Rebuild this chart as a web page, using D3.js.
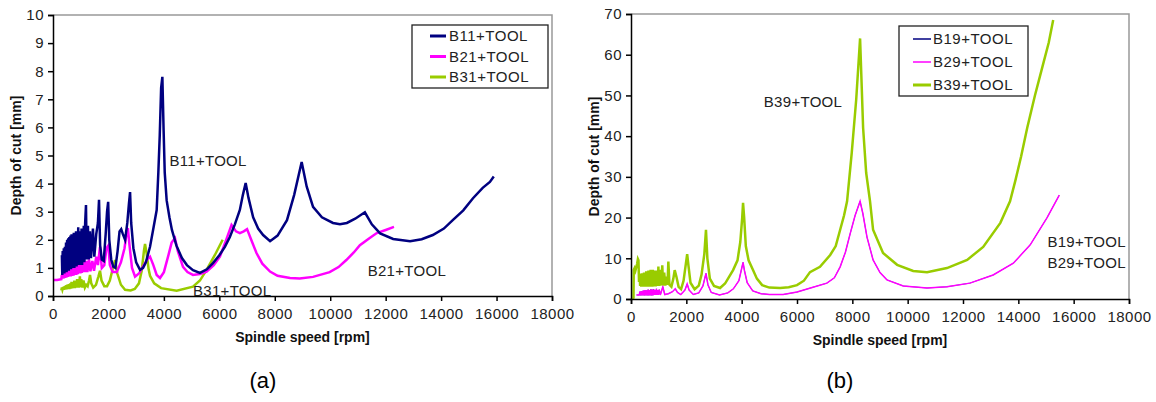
<!DOCTYPE html>
<html>
<head>
<meta charset="utf-8">
<script src="https://cdn.jsdelivr.net/npm/d3@7"></script>
<style>
  body { margin: 0; background: #fff; }
  svg { display: block; font-family: "Liberation Sans", Arial, sans-serif; }
</style>
</head>
<body>
<div id="chart"></div>
<script>
// ---- data: [rpm, depth of cut mm] ----
var b11 = [[320,1.45],[335,0.75],[350,1.6],[370,0.8],[390,1.7],[410,0.8],[430,1.75],[450,0.85],[470,1.9],[490,0.85],[510,2.0],[530,0.9],[550,2.05],[570,0.9],[590,2.1],[610,0.95],[630,2.15],[650,0.95],[670,2.2],[690,1.0],[710,2.2],[730,1.0],[750,2.25],[770,1.0],[790,2.2],[810,1.05],[830,2.3],[850,1.05],[870,2.2],[890,1.1],[910,2.45],[930,1.1],[950,2.3],[970,1.1],[990,2.2],[1010,1.15],[1030,2.4],[1050,1.1],[1070,2.2],[1090,1.2],[1110,2.5],[1130,1.2],[1160,2.6],[1190,3.24],[1215,1.3],[1260,2.5],[1290,1.3],[1330,2.3],[1370,1.35],[1440,2.4],[1490,1.4],[1560,2.2],[1620,2.6],[1660,3.42],[1700,1.8],[1760,1.3],[1830,1.25],[1900,2.2],[1950,3.0],[1990,3.35],[2030,2.0],[2100,1.3],[2170,1.05],[2250,1.0],[2330,1.6],[2400,2.3],[2460,2.38],[2520,2.2],[2600,2.0],[2680,2.6],[2740,3.3],[2780,3.7],[2820,2.6],[2900,1.7],[3000,1.2],[3140,0.93],[3250,1.0],[3350,1.2],[3500,1.75],[3620,2.4],[3740,3.06],[3800,4.4],[3850,5.7],[3900,7.4],[3945,7.8],[3990,5.9],[4030,4.4],[4100,3.4],[4200,2.8],[4290,2.35],[4450,1.8],[4650,1.35],[4830,1.1],[5050,0.92],[5300,0.82],[5550,0.95],[5770,1.17],[6000,1.45],[6200,1.75],[6380,2.1],[6560,2.55],[6740,3.06],[6850,3.6],[6950,4.02],[7050,3.5],[7220,2.8],[7400,2.4],[7580,2.17],[7830,1.95],[8100,2.15],[8440,2.7],[8700,3.6],[8970,4.77],[9150,3.9],[9380,3.17],[9700,2.8],[10100,2.6],[10350,2.55],[10600,2.6],[10900,2.75],[11250,2.98],[11500,2.55],[11800,2.23],[12270,2.03],[12880,1.95],[13300,2.02],[13700,2.17],[14100,2.4],[14420,2.7],[14800,3.05],[15150,3.48],[15500,3.85],[15760,4.06],[15900,4.25]];

var b21 = [[0,0.57],[150,0.57],[300,0.6],[320,0.75],[340,0.62],[370,0.8],[390,0.63],[420,0.85],[440,0.65],[470,0.9],[490,0.66],[520,0.95],[540,0.68],[570,1.0],[590,0.7],[620,1.0],[640,0.7],[670,1.05],[690,0.72],[720,1.05],[740,0.72],[770,1.1],[790,0.75],[820,1.1],[840,0.75],[870,1.15],[890,0.78],[920,1.15],[940,0.8],[970,1.2],[990,0.8],[1020,1.2],[1040,0.82],[1070,1.25],[1090,0.85],[1130,1.3],[1160,0.85],[1200,1.25],[1240,0.85],[1300,1.3],[1350,0.88],[1420,1.25],[1480,0.9],[1560,1.4],[1620,1.1],[1695,1.75],[1760,1.0],[1850,1.1],[1930,1.7],[2000,1.8],[2050,1.1],[2150,0.85],[2300,0.85],[2450,1.2],[2580,1.7],[2650,2.2],[2700,2.42],[2760,1.8],[2850,1.0],[2960,0.69],[3100,0.8],[3250,1.05],[3400,1.3],[3500,1.4],[3620,1.1],[3740,0.75],[3860,0.64],[4000,0.85],[4150,1.4],[4280,1.9],[4400,2.06],[4500,1.6],[4690,1.04],[4850,0.85],[5050,0.75],[5300,0.78],[5540,0.87],[5800,1.1],[6020,1.4],[6250,2.0],[6440,2.53],[6600,2.3],[6740,2.24],[6880,2.3],[7000,2.38],[7150,2.0],[7340,1.53],[7550,1.15],[7830,0.87],[8100,0.72],[8550,0.64],[8900,0.62],[9380,0.68],[9980,0.85],[10300,1.03],[10580,1.28],[10850,1.55],[11070,1.81],[11400,2.05],[11680,2.24],[12000,2.35],[12300,2.46]];

var b31 = [[300,0.2],[320,0.3],[340,0.22],[370,0.32],[390,0.22],[420,0.35],[440,0.23],[470,0.38],[490,0.24],[520,0.4],[540,0.25],[570,0.42],[590,0.25],[620,0.45],[640,0.26],[670,0.5],[690,0.27],[720,0.48],[740,0.28],[770,0.55],[790,0.28],[820,0.5],[840,0.3],[870,0.6],[890,0.3],[920,0.55],[940,0.3],[970,0.7],[990,0.32],[1020,0.6],[1060,0.3],[1100,0.55],[1150,0.3],[1200,0.4],[1250,0.35],[1300,0.55],[1335,0.75],[1380,0.45],[1450,0.3],[1550,0.4],[1640,0.7],[1695,0.9],[1750,0.55],[1850,0.35],[1950,0.35],[2050,0.55],[2150,0.95],[2240,1.28],[2320,0.8],[2450,0.4],[2600,0.22],[2800,0.2],[2950,0.25],[3100,0.45],[3200,0.9],[3280,1.6],[3320,1.85],[3380,1.5],[3450,0.95],[3500,0.72],[3650,0.45],[3900,0.28],[4460,0.19],[5050,0.33],[5300,0.55],[5540,0.93],[5840,1.46],[6120,2.0]];

var b39 = [[70,0],[90,0.3],[100,7.2],[130,7.6],[160,7.0],[190,7.8],[220,8.6],[250,9.8],[270,9.5],[290,4.2],[310,6.2],[330,3.2],[350,6.0],[370,3.0],[390,6.3],[410,3.0],[430,6.2],[450,3.0],[470,6.5],[490,3.0],[510,6.4],[530,3.0],[550,6.8],[570,3.0],[590,6.6],[610,3.0],[630,7.0],[650,3.0],[670,6.8],[690,3.0],[710,7.2],[730,3.0],[750,6.9],[770,3.0],[790,7.2],[810,3.1],[830,7.0],[850,3.1],[870,6.8],[890,3.1],[910,7.0],[930,3.2],[950,6.6],[970,3.2],[990,8.0],[1010,3.2],[1030,6.5],[1050,3.3],[1080,7.2],[1100,3.3],[1130,8.3],[1160,3.3],[1200,6.5],[1240,3.3],[1290,5.5],[1320,3.5],[1350,9.2],[1390,3.5],[1460,3.0],[1530,5.0],[1580,7.1],[1640,5.5],[1720,3.0],[1810,2.4],[1900,4.5],[1980,8.5],[2030,11.0],[2080,8.0],[2150,4.0],[2300,2.4],[2450,3.3],[2550,6.0],[2650,11.0],[2710,17.0],[2760,10.0],[2850,5.0],[3000,3.2],[3220,2.7],[3400,3.8],[3550,5.5],[3690,7.1],[3850,9.5],[3950,14.0],[4020,20.0],[4050,23.6],[4090,20.0],[4150,13.0],[4250,9.5],[4410,7.1],[4550,5.0],[4740,3.4],[5000,2.8],[5390,2.7],[5700,2.9],[6000,3.4],[6250,4.5],[6470,6.6],[6830,7.9],[7200,10.8],[7400,13.0],[7560,17.0],[7700,20.5],[7810,24.0],[7980,36.0],[8140,49.0],[8280,64.0],[8390,42.0],[8500,31.0],[8640,24.0],[8750,17.0],[9110,11.3],[9620,8.4],[10200,6.9],[10700,6.6],[11420,7.6],[12150,9.6],[12730,12.8],[13350,18.7],[13700,24.0],[13890,29.0],[14100,35.0],[14320,42.0],[14600,50.0],[14870,57.0],[15100,63.0],[15260,68.5]];

var b29 = [[200,1],[300,1],[320,1.8],[340,0.9],[370,1.9],[390,0.9],[420,2],[440,0.9],[470,2.1],[490,0.9],[520,2.2],[540,0.9],[570,2.1],[590,0.9],[620,2.3],[640,0.9],[670,2.2],[690,0.9],[720,2.4],[740,0.9],[770,2.3],[790,0.9],[820,2.4],[840,1.0],[870,2.2],[890,1.0],[920,2.5],[940,1.0],[970,2.2],[990,1.0],[1020,2.3],[1060,1.0],[1150,3],[1220,1.1],[1350,1.3],[1500,1.8],[1600,2.5],[1680,1.6],[1800,1.1],[1950,2.2],[2030,3.7],[2100,2.2],[2250,1.1],[2450,1.5],[2600,3.2],[2710,6.3],[2780,3.5],[2900,1.6],[3200,1.0],[3500,1.5],[3700,2.5],[3900,4.5],[4000,7.5],[4050,9],[4100,7],[4200,4],[4400,2],[4700,1.3],[5000,1.1],[5500,1.1],[6000,1.7],[6580,2.9],[7080,3.9],[7350,5.2],[7560,7.9],[7750,11.5],[7920,16],[8100,20.5],[8280,24],[8380,21],[8530,15.2],[8750,9.6],[9000,6.5],[9250,4.7],[9840,3.2],[10700,2.7],[11420,3],[12250,3.9],[13090,5.9],[13820,8.8],[14430,13.3],[15040,20],[15480,25.5]];

// B19 lies under B29 (both labelled at the same curve)
var b19 = b29;

var xTicks = [0, 2000, 4000, 6000, 8000, 10000, 12000, 14000, 16000, 18000];
var yTicksA = [0, 1, 2, 3, 4, 5, 6, 7, 8, 9, 10];
var yTicksB = [0, 10, 20, 30, 40, 50, 60, 70];

var svg = d3.select("#chart").append("svg")
    .attr("width", 1156)
    .attr("height", 402);

function drawPanel(cfg) {
    var x = d3.scaleLinear().domain([0, 18000]).range([cfg.left, cfg.right]);
    var y = d3.scaleLinear().domain([0, cfg.ymax]).range([cfg.bottom, cfg.top]);
    var g = svg.append("g");

    // gray frame top/right
    g.append("path")
        .attr("d", "M" + cfg.left + "," + cfg.top + "H" + cfg.right + "V" + cfg.bottom)
        .attr("fill", "none").attr("stroke", "#999").attr("stroke-width", 1.5);

    var lineGen = d3.line().x(function (d) { return x(d[0]); }).y(function (d) { return y(d[1]); });

    cfg.series.forEach(function (s) {
        g.append("path")
            .datum(s.data)
            .attr("d", lineGen)
            .attr("fill", "none")
            .attr("stroke", s.color)
            .attr("stroke-width", s.width)
            .attr("stroke-linejoin", "miter");
    });

    var xAxis = g.append("g")
        .attr("transform", "translate(0," + cfg.bottom + ")")
        .call(d3.axisBottom(x).tickValues(xTicks).tickSize(5).tickPadding(7).tickFormat(d3.format("d")));
    var yAxis = g.append("g")
        .attr("transform", "translate(" + cfg.left + ",0)")
        .call(d3.axisLeft(y).tickValues(cfg.yTicks).tickSize(5).tickPadding(4));

    [xAxis, yAxis].forEach(function (a) {
        a.select(".domain").attr("stroke", "#000").attr("stroke-width", 1.5);
        a.selectAll(".tick line").attr("stroke", "#000").attr("stroke-width", 1.5);
        a.selectAll("text")
            .attr("fill", "#222")
            .style("font-size", "15px")
            .style("letter-spacing", "0.5px")
            .style("font-family", "'Liberation Sans', Arial, sans-serif");
    });

    // axis titles
    g.append("text")
        .attr("x", (cfg.left + cfg.right) / 2)
        .attr("y", cfg.bottom + 46)
        .attr("text-anchor", "middle")
        .style("font-size", "14px").style("font-weight", "bold")
        .attr("fill", "#111")
        .text("Spindle speed [rpm]");
    g.append("text")
        .attr("transform", "translate(" + cfg.ytitleX + "," + (cfg.top + cfg.bottom) / 2 + ") rotate(-90)")
        .attr("text-anchor", "middle")
        .attr("dy", "0.35em")
        .style("font-size", "14px").style("font-weight", "bold")
        .attr("fill", "#111")
        .text("Depth of cut [mm]");

    // legend
    var lg = g.append("g");
    lg.append("rect")
        .attr("x", cfg.legend.x).attr("y", cfg.legend.y)
        .attr("width", cfg.legend.w).attr("height", cfg.legend.h)
        .attr("fill", "#fff").attr("stroke", "#222").attr("stroke-width", 1.3);
    cfg.series.slice().sort(function (a, b) { return a.order - b.order; }).forEach(function (s, i) {
        var ly = cfg.legend.y + cfg.legend.row0 + i * cfg.legend.step;
        lg.append("line")
            .attr("x1", cfg.legend.x + cfg.legend.lx1).attr("x2", cfg.legend.x + cfg.legend.lx2)
            .attr("y1", ly).attr("y2", ly)
            .attr("stroke", s.color).attr("stroke-width", s.legendWidth);
        lg.append("text")
            .attr("x", cfg.legend.x + cfg.legend.tx).attr("y", ly)
            .attr("dy", "0.35em")
            .style("font-size", "15px").style("letter-spacing", "0.5px")
            .attr("fill", "#222")
            .text(s.name);
    });

    // in-plot annotations
    cfg.notes.forEach(function (n) {
        g.append("text")
            .attr("x", x(n.rpm)).attr("y", y(n.v))
            .attr("dy", "0.35em")
            .style("font-size", "15px").style("letter-spacing", "0.3px")
            .attr("fill", "#222")
            .text(n.text);
    });

    g.append("text")
        .attr("x", cfg.captionX).attr("y", 380)
        .attr("text-anchor", "middle").attr("dy", "0.35em")
        .style("font-size", "22px").attr("fill", "#000")
        .text(cfg.caption);
}

drawPanel({
    left: 53, right: 552, top: 15, bottom: 296, ymax: 10, yTicks: yTicksA, ytitleX: 16,
    series: [
        {name: "B31+TOOL", data: b31, color: "#99cc00", width: 2.5, legendWidth: 3, order: 3},
        {name: "B21+TOOL", data: b21, color: "#ff00ff", width: 2.5, legendWidth: 3, order: 2},
        {name: "B11+TOOL", data: b11, color: "#000080", width: 2.5, legendWidth: 3, order: 1}
    ],
    legend: {x: 412, y: 25, w: 136, h: 63, row0: 11, step: 20.5, lx1: 18, lx2: 34, tx: 37},
    notes: [
        {text: "B11+TOOL", rpm: 4200, v: 4.8},
        {text: "B21+TOOL", rpm: 11350, v: 0.9},
        {text: "B31+TOOL", rpm: 5050, v: 0.2}
    ],
    caption: "(a)", captionX: 263
});

drawPanel({
    left: 631, right: 1129, top: 14, bottom: 299, ymax: 70, yTicks: yTicksB, ytitleX: 594,
    series: [
        {name: "B19+TOOL", data: b19, color: "#000080", width: 0.6, legendWidth: 1.5, order: 1},
        {name: "B29+TOOL", data: b29, color: "#ff00ff", width: 1.5, legendWidth: 1.5, order: 2},
        {name: "B39+TOOL", data: b39, color: "#99cc00", width: 2.5, legendWidth: 3, order: 3}
    ],
    legend: {x: 899, y: 26, w: 129, h: 70, row0: 13, step: 23, lx1: 14, lx2: 32, tx: 34},
    notes: [
        {text: "B39+TOOL", rpm: 4800, v: 48.5},
        {text: "B19+TOOL", rpm: 15050, v: 14},
        {text: "B29+TOOL", rpm: 15050, v: 9}
    ],
    caption: "(b)", captionX: 840
});
</script>
</body>
</html>
